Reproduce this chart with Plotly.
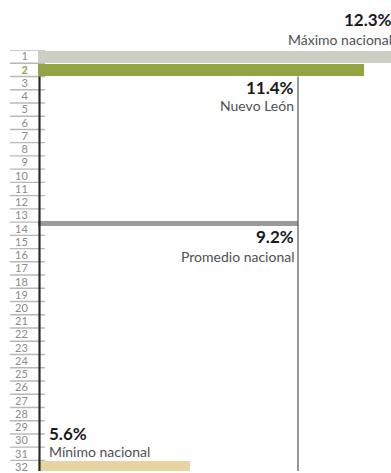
import plotly.graph_objects as go

# State ranking positions shown on the left axis
rows = list(range(1, 33))
row_labels = [str(r) for r in rows]
highlight_row = 2

# Reference values (%)
max_value = 12.3      # Máximo nacional
state_value = 11.4    # Nuevo León
avg_value = 9.2       # Promedio nacional
min_value = 5.6       # Mínimo nacional

bar_rows = [1, 2, 32]
bar_values = [max_value, state_value, min_value]
bar_colors = ["#cdcfc4", "#93a445", "#e8d4a0"]

AVG_POS = 13.6
FONT = "Lato"
W, H = 391, 473
L, T = 38, 50
plot_w = W - L

fig = go.Figure()

fig.add_trace(go.Bar(
    x=bar_values, y=bar_rows, orientation="h",
    marker=dict(color=bar_colors, line=dict(width=0)),
    width=0.92, hoverinfo="skip", showlegend=False,
))

# national average drawn as a thin bar
fig.add_trace(go.Bar(
    x=[avg_value], y=[AVG_POS], orientation="h",
    marker=dict(color="#9a9a9a", line=dict(width=0)),
    width=0.34, hoverinfo="skip", showlegend=False,
))

shapes = []
# row separators along the ranking scale
for k in range(0, 32):
    shapes.append(dict(type="line", xref="paper", yref="y",
                       x0=-28 / plot_w, x1=7 / plot_w, y0=k + 0.5, y1=k + 0.5,
                       line=dict(color="#b8b8b8", width=1.4), layer="below"))
# dark axis line
shapes.append(dict(type="line", xref="paper", yref="y",
                   x0=1.5 / plot_w, x1=1.5 / plot_w, y0=2.5, y1=32.4,
                   line=dict(color="#2a2a2a", width=2.2)))
# reference line at the national average
shapes.append(dict(type="line", xref="x", yref="y",
                   x0=avg_value, x1=avg_value, y0=2.5, y1=32.4,
                   line=dict(color="#555555", width=1.2)))

tick_text = [
    f"<b><span style='color:#93a445'>{t}</span></b>" if r == highlight_row else t
    for r, t in zip(rows, row_labels)
]

def pct(v):
    return f"<b>{v:.1f}%</b>"

num_font = dict(family=FONT, size=17, color="#1a1a1a")
lab_font = dict(family=FONT, size=14, color="#505050")
common = dict(showarrow=False, borderpad=0, borderwidth=0, yanchor="middle")

annotations = [
    dict(text=pct(max_value), xref="x", yref="paper", x=max_value, y=1.073,
         xanchor="right", xshift=1, font=num_font, **common),
    dict(text="Máximo nacional", xref="x", yref="paper", x=max_value, y=1.025,
         xanchor="right", xshift=1, font=lab_font, **common),
    dict(text=pct(state_value), xref="x", yref="y", x=avg_value, y=3.3,
         xanchor="right", xshift=-4, font=num_font, **common),
    dict(text="Nuevo León", xref="x", yref="y", x=avg_value, y=4.7,
         xanchor="right", xshift=-4, font=lab_font, **common),
    dict(text=pct(avg_value), xref="x", yref="y", x=avg_value, y=14.58,
         xanchor="right", xshift=-4, font=num_font, **common),
    dict(text="Promedio nacional", xref="x", yref="y", x=avg_value, y=16.06,
         xanchor="right", xshift=-4, font=lab_font, **common),
    dict(text=pct(min_value), xref="paper", yref="y", x=0, y=29.45,
         xanchor="left", xshift=11, font=num_font, **common),
    dict(text="Mínimo nacional", xref="paper", yref="y", x=0, y=30.85,
         xanchor="left", xshift=11, font=lab_font, **common),
]

fig.update_layout(
    width=W, height=H,
    margin=dict(l=L, r=0, t=T, b=0, pad=0),
    paper_bgcolor="white", plot_bgcolor="white",
    bargap=0, barmode="overlay",
    shapes=shapes, annotations=annotations,
    xaxis=dict(range=[12.3 - plot_w / 30.0, 12.3], visible=False, fixedrange=True),
    yaxis=dict(range=[32.3, 0.5], tickmode="array", tickvals=rows, ticktext=tick_text,
               ticks="outside", ticklen=7, tickcolor="rgba(0,0,0,0)",
               ticklabeloverflow="allow",
               tickfont=dict(family=FONT, size=11, color="#8a8a8a"),
               showgrid=False, zeroline=False, showline=False, fixedrange=True),
    font=dict(family=FONT),
)

fig.write_html("out.html", config={"displayModeBar": False})
